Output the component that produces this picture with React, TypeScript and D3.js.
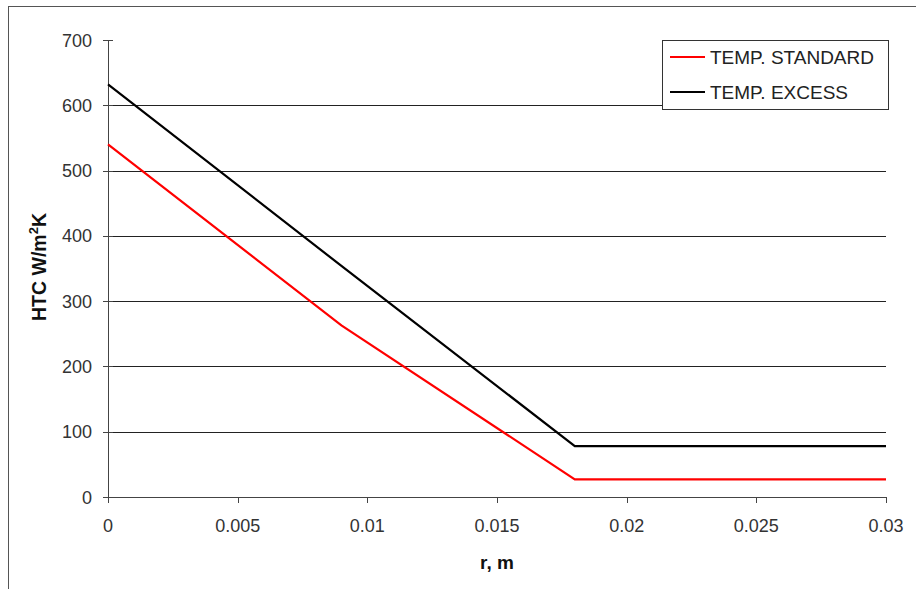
import React from 'react';
import * as d3 from 'd3';

// radius (m) and heat transfer coefficient values
const radius = [0, 0.009, 0.018, 0.03];
const tempStandard = [540, 263, 27, 27];
const tempExcess = [632, 354, 78, 78];

const xTicks = [0, 0.005, 0.01, 0.015, 0.02, 0.025, 0.03];
const yTicks = [0, 100, 200, 300, 400, 500, 600, 700];

const series = [
  {name: 'TEMP. STANDARD', color: '#ff0000', values: tempStandard},
  {name: 'TEMP. EXCESS', color: '#000000', values: tempExcess}
];

const W = 916, H = 589;
const font = '"Liberation Sans", Arial, sans-serif';

export default function App(){
  const x = d3.scaleLinear().domain([0, 0.03]).range([108, 886]);
  const y = d3.scaleLinear().domain([0, 700]).range([497, 40]);

  const line = d3.line<number>()
    .x((d, i) => x(radius[i]))
    .y(d => y(d));

  return (
    <div style={{position: 'fixed', left: 0, top: 0}}>
      <svg width={W} height={H} style={{display: 'block', background: '#fff'}}>
        {/* outer chart frame, runs off the right/bottom edge */}
        <rect x={8.5} y={6.5} width={1000} height={1000} fill="none" stroke="#555" strokeWidth={1}/>

        {/* gridlines */}
        {yTicks.filter(t => t > 0 && t < 700).map(t => (
          <line key={'g'+t} x1={108} x2={886} y1={Math.round(y(t))+0.5} y2={Math.round(y(t))+0.5}
            stroke="#222" strokeWidth={1}/>
        ))}

        {/* y axis */}
        <line x1={108.5} x2={108.5} y1={40} y2={503} stroke="#444" strokeWidth={1}/>
        {yTicks.map(t => (
          <g key={'y'+t}>
            <line x1={103} x2={113} y1={Math.round(y(t))+0.5} y2={Math.round(y(t))+0.5} stroke="#444"/>
            <text x={92} y={y(t)+6.5} textAnchor="end" fontFamily={font} fontSize={18} fill="#333">{t}</text>
          </g>
        ))}

        {/* x axis */}
        <line x1={108} x2={886} y1={497.5} y2={497.5} stroke="#444" strokeWidth={1}/>
        {xTicks.map(t => (
          <g key={'x'+t}>
            <line x1={Math.round(x(t))+0.5} x2={Math.round(x(t))+0.5} y1={497} y2={503} stroke="#444"/>
            <text x={x(t)} y={531.5} textAnchor="middle" fontFamily={font} fontSize={18} fill="#333">{t}</text>
          </g>
        ))}

        {/* series */}
        {series.map(s => (
          <path key={s.name} d={line(s.values) || ''} fill="none" stroke={s.color} strokeWidth={2.2}/>
        ))}

        {/* axis titles */}
        <text x={497} y={569} textAnchor="middle" fontFamily={font} fontSize={19} fontWeight="bold" fill="#111">r, m</text>
        <text transform="translate(46,267) rotate(-90)" textAnchor="middle" fontFamily={font} fontSize={19.5}
          fontWeight="bold" fill="#111">
          HTC W/m<tspan dy={-8} fontSize={13}>2</tspan><tspan dy={8}>K</tspan>
        </text>

        {/* legend */}
        <rect x={662.5} y={40.5} width={226} height={69} fill="#fff" stroke="#333" strokeWidth={1}/>
        {series.map((s, i) => (
          <g key={'l'+s.name}>
            <line x1={670} x2={705} y1={57 + i*35} y2={57 + i*35} stroke={s.color} strokeWidth={2.2}/>
            <text x={710} y={63.5 + i*35} fontFamily={font} fontSize={19} fill="#222">{s.name}</text>
          </g>
        ))}
      </svg>
    </div>
  );
}
